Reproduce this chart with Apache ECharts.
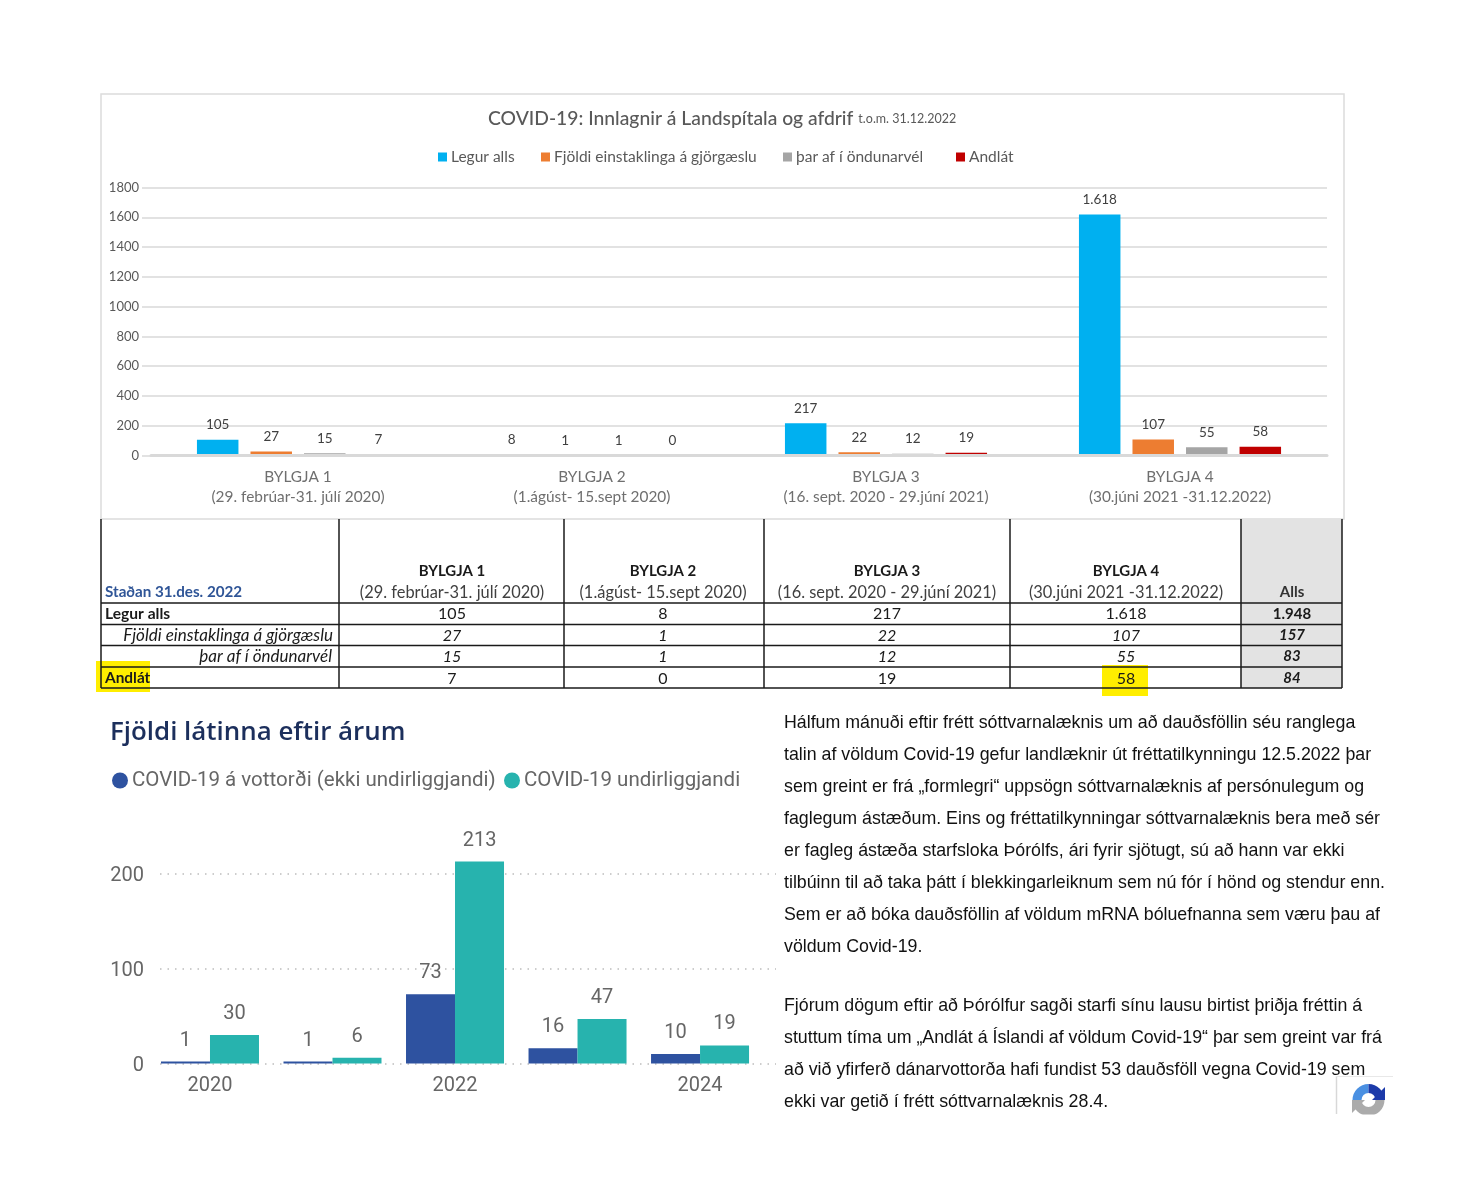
<!DOCTYPE html>
<html>
<head>
<meta charset="utf-8">
<title>COVID-19</title>
<style>html,body{margin:0;padding:0;background:#fff}#c{width:1479px;height:1200px}</style>
<script src="https://cdn.jsdelivr.net/npm/echarts@6/dist/echarts.min.js"></script>
</head>
<body>
<div id="c"></div>
<script>
// ---- data: hospital chart
var waveCats = ['BYLGJA 1\n(29. febrúar-31. júlí 2020)','BYLGJA 2\n(1.ágúst- 15.sept 2020)','BYLGJA 3\n(16. sept. 2020 - 29.júní 2021)','BYLGJA 4\n(30.júni 2021 -31.12.2022)'];
var legurAlls = [105, 8, 217, 1618];
var gjorgaesla = [27, 1, 22, 107];
var ondunarvel = [15, 1, 12, 55];
var andlat = [7, 0, 19, 58];
var waveNames = ['Legur alls','Fjöldi einstaklinga á gjörgæslu','þar af í öndunarvél','Andlát'];

// ---- data: table
var tableHeadTop = ['BYLGJA 1','BYLGJA 2','BYLGJA 3','BYLGJA 4'];
var tableHeadSub = ['(29. febrúar-31. júlí 2020)','(1.ágúst- 15.sept 2020)','(16. sept. 2020 - 29.júní 2021)','(30.júni 2021 -31.12.2022)'];
var tableRowNames = ['Legur alls','Fjöldi einstaklinga á gjörgæslu','þar af í öndunarvél','Andlát'];
var tableRows = [
  ['105','8','217','1.618','1.948'],
  ['27','1','22','107','157'],
  ['15','1','12','55','83'],
  ['7','0','19','58','84']
];

// ---- data: deaths per year
var years = [2020, 2021, 2022, 2023, 2024];
var yearTicks = [2020, 2022, 2024];
var vottord = [1, 1, 73, 16, 10];
var undirliggjandi = [30, 6, 213, 47, 19];

// ---- text
var para1 = ['Hálfum mánuði eftir frétt sóttvarnalæknis um að dauðsföllin séu ranglega',
 'talin af völdum Covid-19 gefur landlæknir út fréttatilkynningu 12.5.2022 þar',
 'sem greint er frá „formlegri“ uppsögn sóttvarnalæknis af persónulegum og',
 'faglegum ástæðum. Eins og fréttatilkynningar sóttvarnalæknis bera með sér',
 'er fagleg ástæða starfsloka Þórólfs, ári fyrir sjötugt, sú að hann var ekki',
 'tilbúinn til að taka þátt í blekkingarleiknum sem nú fór í hönd og stendur enn.',
 'Sem er að bóka dauðsföllin af völdum mRNA bóluefnanna sem væru þau af',
 'völdum Covid-19.'];
var para2 = ['Fjórum dögum eftir að Þórólfur sagði starfi sínu lausu birtist þriðja fréttin á',
 'stuttum tíma um „Andlát á Íslandi af völdum Covid-19“ þar sem greint var frá',
 'að við yfirferð dánarvottorða hafi fundist 53 dauðsföll vegna Covid-19 sem',
 'ekki var getið í frétt sóttvarnalæknis 28.4.'];

// ---- layout of the table and helpers
var colEdges = [101, 339, 564, 764, 1010, 1241, 1342];
var colMid = [452, 663, 887, 1126, 1292];
var rowEdges = [603, 624.5, 645.5, 667, 688];
var rowMid = [614, 635.5, 656.5, 678.5];
var TF = 'Lato';
var g = [];
function txt(s, x, y, o) {
  o = o || {};
  g.push({type:'text', silent:true, style:{text:s, x:x, y:y, align:o.align||'center', verticalAlign:'middle',
    fontFamily:o.family||TF, fontSize:o.size||16, fontWeight:o.weight||'normal', fontStyle:o.italic?'italic':'normal', fill:o.fill||'#1a1a1a'}});
}
function box(x,y,w,h,fill,stroke,lw){
  g.push({type:'rect', silent:true, shape:{x:x,y:y,width:w,height:h}, style:{fill:fill||'none', stroke:stroke||'none', lineWidth:lw||0}});
}
function line(x1,y1,x2,y2,c,lw){
  g.push({type:'line', silent:true, shape:{x1:x1,y1:y1,x2:x2,y2:y2}, style:{stroke:c,lineWidth:lw}});
}
// chart frame
box(101,94,1243,425,'none','#dcdcdc',1.5);
// table background + highlights
box(1241,519,101,169,'#e3e3e3');
box(96,661,54,31,'#ffee00');
box(1102,665,46,31,'#ffee00');
colEdges.forEach(function(x){ line(x,519,x,688,'#1a1a1a',1.5); });
rowEdges.forEach(function(y){ line(101,y,1342,y,'#1a1a1a',1.5); });
tableHeadTop.forEach(function(s,i){
  txt(s,colMid[i],571,{weight:'bold',size:15});
  txt(tableHeadSub[i],colMid[i],592.5,{fill:'#404040',size:16.4});
});
txt('Alls',colMid[4],592.5,{weight:'bold',fill:'#333',size:15});
txt('Staðan 31.des. 2022',105,592.5,{align:'left',fill:'#2f5597',weight:'bold',size:15.2});
txt(tableRowNames[0],105,rowMid[0],{align:'left',weight:'bold',size:15.6});
txt(tableRowNames[1],333,rowMid[1],{align:'right',italic:true,size:17});
txt(tableRowNames[2],332,rowMid[2],{align:'right',italic:true,size:17});
txt(tableRowNames[3],105,rowMid[3],{align:'left',weight:'bold',size:15.4});
tableRows.forEach(function(row,r){
  row.forEach(function(v,c){
    var tot = c===4;
    txt(v,colMid[c],rowMid[r],{weight:tot?'bold':'normal',size:tot?15:16,italic:(r===1||r===2||(tot&&r===3))});
  });
});
// lower chart title
txt('Fjöldi látinna eftir árum',110,732.5,{align:'left',family:'Open Sans',size:25.9,weight:'600',fill:'#1c2f5c'});
// paragraphs
var TXT='Liberation Sans';
para1.forEach(function(s,i){ txt(s,784,723+32*i,{align:'left',family:TXT,size:17.8,fill:'#111'}); });
para2.forEach(function(s,i){ txt(s,784,1006+32*i,{align:'left',family:TXT,size:17.8,fill:'#111'}); });
// recaptcha badge
box(1336,1076,57,40,'#fff');
line(1336.5,1076,1336.5,1114,'#d8d8d8',1.5);
line(1336,1076.5,1393,1076.5,'#e8e8e8',1);
g.push({type:'sector',silent:true,shape:{cx:1368.5,cy:1100,r:16,r0:7,startAngle:Math.PI,endAngle:Math.PI*1.5},style:{fill:'#4a90e2'}});
g.push({type:'sector',silent:true,shape:{cx:1368.5,cy:1100,r:16,r0:7,startAngle:Math.PI*1.5,endAngle:Math.PI*2},style:{fill:'#1c3aa9'}});
g.push({type:'sector',silent:true,shape:{cx:1368.5,cy:1100,r:16,r0:7,startAngle:0,endAngle:Math.PI},style:{fill:'#ababab'}});
g.push({type:'polygon',silent:true,shape:{points:[[1385,1087],[1385,1100],[1372,1100]]},style:{fill:'#1c3aa9'}});
g.push({type:'polygon',silent:true,shape:{points:[[1352,1100],[1365,1100],[1352,1113]]},style:{fill:'#ababab'}});
box(1336,1114.5,60,8,'#fff');

function thousand(v){ var n=v.value!==undefined?v.value:v; if(Array.isArray(n)) n=n[1]; return n>=1000?String(n).replace(/(\d)(\d{3})$/,'$1.$2'):String(n); }
function wave(name,data,color){
  return {name:name,type:'bar',xAxisIndex:0,yAxisIndex:0,data:data,barWidth:41.5,barGap:'29%',itemStyle:{color:color},
    label:{show:true,position:'top',distance:8,fontFamily:TF,fontSize:13.5,color:'#404040',formatter:thousand}};
}
function yearS(name,data,color){
  return {name:name,type:'bar',xAxisIndex:1,yAxisIndex:1,data:data.map(function(v,i){return [years[i],v];}),barWidth:49,barGap:'0%',barMinHeight:2,itemStyle:{color:color},
    label:{show:true,position:'top',distance:11,fontFamily:'Roboto',fontSize:20,color:'#666',formatter:function(p){return String(p.value[1]);}}};
}
function leg(name,left,top,icon,size,font,fs,col){
  return {data:[name],left:left,top:top,icon:icon,itemWidth:size,itemHeight:size,selectedMode:false,padding:0,
    textStyle:{fontFamily:font,fontSize:fs,color:col,padding:[0,0,0,-1]}};
}
var lowNames=['COVID-19 á vottorði (ekki undirliggjandi)','COVID-19 undirliggjandi'];

var chart = echarts.init(document.getElementById('c'),null,{renderer:'canvas'});
chart.setOption({
  animation:false,
  backgroundColor:'#fff',
  title:{left:488,top:109.5,padding:0,text:'{a|COVID-19: Innlagnir á Landspítala og afdrif} {b|t.o.m. 31.12.2022}',
    textStyle:{fontWeight:'normal',rich:{a:{fontFamily:TF,fontSize:19.3,fontWeight:'500',color:'#595959'},b:{fontFamily:TF,fontSize:12.5,fontWeight:'normal',color:'#595959'}}}},
  legend:[
    leg(waveNames[0],438,149,'rect',9,TF,15.5,'#595959'),
    leg(waveNames[1],541,149,'rect',9,TF,15.5,'#595959'),
    leg(waveNames[2],783,149,'rect',9,TF,15.5,'#595959'),
    leg(waveNames[3],956,149,'rect',9,TF,15.5,'#595959'),
    leg(lowNames[0],112,770,'circle',16,'Roboto',20.5,'#666'),
    leg(lowNames[1],504,770,'circle',16,'Roboto',20.5,'#666')
  ],
  grid:[
    {left:151,top:187.5,width:1176,height:268,containLabel:false},
    {left:160,top:845.5,width:616,height:218,containLabel:false}
  ],
  xAxis:[
    {type:'category',gridIndex:0,z:5,data:waveCats,axisTick:{show:false},axisLine:{lineStyle:{color:'#d9d9d9',width:3}},
     axisLabel:{margin:12,fontFamily:TF,fontSize:15.4,lineHeight:20,color:'#6f6f6f'}},
    {type:'value',gridIndex:1,min:2019.592,max:2024.62,splitLine:{show:false},axisLine:{show:false},axisTick:{show:false},
     axisLabel:{customValues:yearTicks,margin:12,fontFamily:'Roboto',fontSize:20,color:'#666',formatter:function(v){return String(v);}}}
  ],
  yAxis:[
    {type:'value',gridIndex:0,min:0,max:1800,interval:200,axisLine:{show:false},
     axisTick:{show:true,length:9,lineStyle:{color:'#d9d9d9',width:1.5}},
     splitLine:{lineStyle:{color:'#d9d9d9',width:1.5}},
     axisLabel:{margin:12,fontFamily:TF,fontSize:13,color:'#595959',formatter:function(v){return String(v);}}},
    {type:'value',gridIndex:1,min:0,max:230,interval:100,axisLine:{show:false},axisTick:{show:false},
     splitLine:{showMaxLine:false,lineStyle:{color:'#bdbdbd',width:1.5,type:[1.5,6]}},
     axisLabel:{margin:16,showMaxLabel:false,formatter:function(v){return '{a|'+v+'}';},
       rich:{a:{padding:[4,0,0,0],fontFamily:'Roboto',fontSize:20,color:'#666'}}}}
  ],
  series:[
    wave(waveNames[0],legurAlls,'#00b0f0'),
    wave(waveNames[1],gjorgaesla,'#ed7d31'),
    wave(waveNames[2],ondunarvel,'#a5a5a5'),
    wave(waveNames[3],andlat,'#c00000'),
    yearS(lowNames[0],vottord,'#2e52a0'),
    yearS(lowNames[1],undirliggjandi,'#27b3ae')
  ],
  graphic:{elements:g}
});
</script>
</body>
</html>
